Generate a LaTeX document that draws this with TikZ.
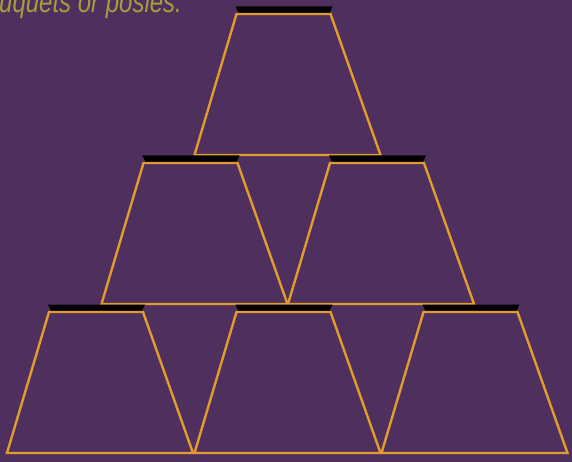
\documentclass[tikz,border=0pt]{standalone}
\usepackage{fontspec}
\setmainfont{Liberation Sans}
\definecolor{bgpurple}{HTML}{4E2F5E}
\definecolor{rimorange}{HTML}{E09C2C}
\definecolor{captext}{HTML}{A59E3C}
\tikzset{
  rim/.style     = {draw=rimorange, line width=2.4pt, line join=miter},
  capfill/.style = {fill=black},
  caption/.style = {font=\itshape\fontsize{30}{30}\selectfont, text=captext,
                    inner sep=0pt, xscale=0.8},
  % one tumbler: origin at the bottom centre's x, top edge's y
  tumbler/.pic = {
    \fill[capfill] (-52,-7.5) -- (45,-7.5) -- (42,-1) -- (-49,-1) -- cycle;
    \draw[rim] (-51,0) -- (43,0) -- (93,141) -- (-93,141) -- cycle;
  }
}
\begin{document}
\begin{tikzpicture}[x=1pt, y=-1pt]
  \useasboundingbox (0,0) rectangle (572,462);
  \clip (0,0) rectangle (572,462);
  \fill[bgpurple] (0,0) rectangle (572,462);

  % caption, cut off by the top margin
  \node[caption, anchor=base west] (cap) at (-1,13) {uquets or posies.};

  % ── stack of tumblers ──────────────────────────────────────
  \pic (top)  at (287.5,14)  {tumbler};
  \pic (midL) at (194.5,163) {tumbler};
  \pic (midR) at (381,163)   {tumbler};
  \foreach \bx/\nm in {100/botL, 287.5/botM, 474.5/botR}
    \pic (\nm) at (\bx,312) {tumbler};
\end{tikzpicture}
\end{document}
